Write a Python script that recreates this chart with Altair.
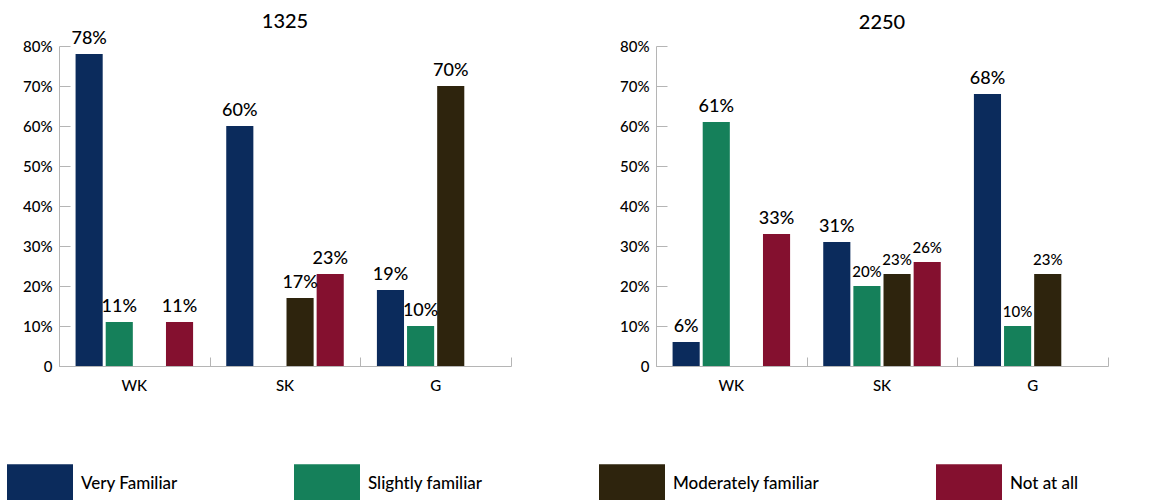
import altair as alt
import pandas as pd

# Category groups and response series
categories = ["WK", "SK", "G"]
series = ["Very Familiar", "Slightly familiar", "Moderately familiar", "Not at all"]
colors = ["#0b2b5c", "#15805a", "#2e240d", "#84102f"]

# Percent of respondents; None leaves an empty slot in the group
values_1325 = {
    "Very Familiar": [78, 60, 19],
    "Slightly familiar": [11, None, 10],
    "Moderately familiar": [None, 17, 70],
    "Not at all": [11, 23, None],
}
values_2250 = {
    "Very Familiar": [6, 31, 68],
    "Slightly familiar": [61, 20, 10],
    "Moderately familiar": [None, 23, 23],
    "Not at all": [33, 26, None],
}

y_ticks = [0, 10, 20, 30, 40, 50, 60, 70, 80]

FONT = "Lato"
GREY = "#b5b5b5"
W, H = 452, 320


def long_table(values):
    rows = []
    for s in series:
        for c, v in zip(categories, values[s]):
            if v is not None:
                rows.append({"category": c, "series": s, "value": v})
    return pd.DataFrame(rows)


# Groups fill whole steps so the extent ticks fall between groups;
# the gap around each group comes from the offset scale's outer padding.
x_scale = alt.Scale(domain=categories, paddingInner=0, paddingOuter=0)
xo_scale = alt.Scale(domain=series, paddingInner=0.1, paddingOuter=0.55)
y_scale = alt.Scale(domain=[0, 80], nice=False)


def panel(values, title, small_test=None, title_dy=0):
    df = long_table(values)
    base = alt.Chart(df).transform_calculate(label="datum.value + '%'")

    bars = base.mark_bar().encode(
        x=alt.X("category:N", sort=categories, scale=x_scale, title=None,
                axis=alt.Axis(domain=False, ticks=False, labelAngle=0,
                              labelPadding=12, labelFontSize=15,
                              labelFontWeight=500,
                              labelColor="black", labelFont=FONT)),
        xOffset=alt.XOffset("series:N", sort=series, scale=xo_scale),
        y=alt.Y("value:Q", scale=y_scale, title=None,
                axis=alt.Axis(values=y_ticks, domain=False, ticks=False,
                              grid=False, minExtent=52, labelPadding=7,
                              labelFontSize=15, labelFontWeight=500,
                              labelColor="black", labelFont=FONT,
                              labelExpr="datum.value == 0 ? '0' : datum.value + '%'")),
        color=alt.Color("series:N", sort=series,
                        scale=alt.Scale(domain=series, range=colors),
                        legend=alt.Legend(
                            title=None, orient="none", legendX=-52, legendY=405,
                            direction="horizontal", columns=4,
                            gridAlign="each", columnPadding=116,
                            symbolType="M-1,-0.6H1V0.6H-1Z", symbolSize=4356,
                            symbolStrokeWidth=0, symbolOpacity=1,
                            labelFontSize=17, labelFontWeight=500,
                            labelOffset=8, labelColor="black",
                            labelFont=FONT, labelLimit=0)),
    )

    size = alt.value(18)
    if small_test:
        size = alt.condition(small_test, alt.value(15), alt.value(18))

    # Text layer also carries the inward-pointing tick axes
    labels = base.mark_text(baseline="bottom", dy=-6, font=FONT,
                            fontWeight=500, color="black").encode(
        x=alt.X("category:N", sort=categories, scale=x_scale, title=None,
                axis=alt.Axis(orient="top", offset=-H, labels=False,
                              domain=True, domainColor=GREY, ticks=True,
                              tickColor=GREY, tickSize=9, tickBand="extent")),
        xOffset=alt.XOffset("series:N", sort=series, scale=xo_scale),
        y=alt.Y("value:Q", scale=y_scale, title=None,
                axis=alt.Axis(orient="right", offset=-W, labels=False,
                              values=y_ticks, grid=False, domain=True,
                              domainColor=GREY, ticks=True, tickColor=GREY,
                              tickSize=11)),
        text="label:N",
        size=size,
    )

    return alt.layer(bars, labels).resolve_axis(
        x="independent", y="independent"
    ).properties(
        width=W, height=H,
        title=alt.TitleParams(title, fontSize=20, fontWeight=500, frame="group",
                              font=FONT, color="black", offset=6, dy=title_dy),
    )


chart = alt.hconcat(
    panel(values_1325, "1325", title_dy=8),
    panel(values_2250, "2250",
          "datum.category != 'WK' && datum.value < 30"),
    spacing=92,
).properties(
    padding={"left": 7, "top": 12, "right": 5, "bottom": 0},
).configure_view(stroke=None).configure_axis(grid=False)

chart.save("out.html", embed_options={"renderer": "svg", "actions": False})
